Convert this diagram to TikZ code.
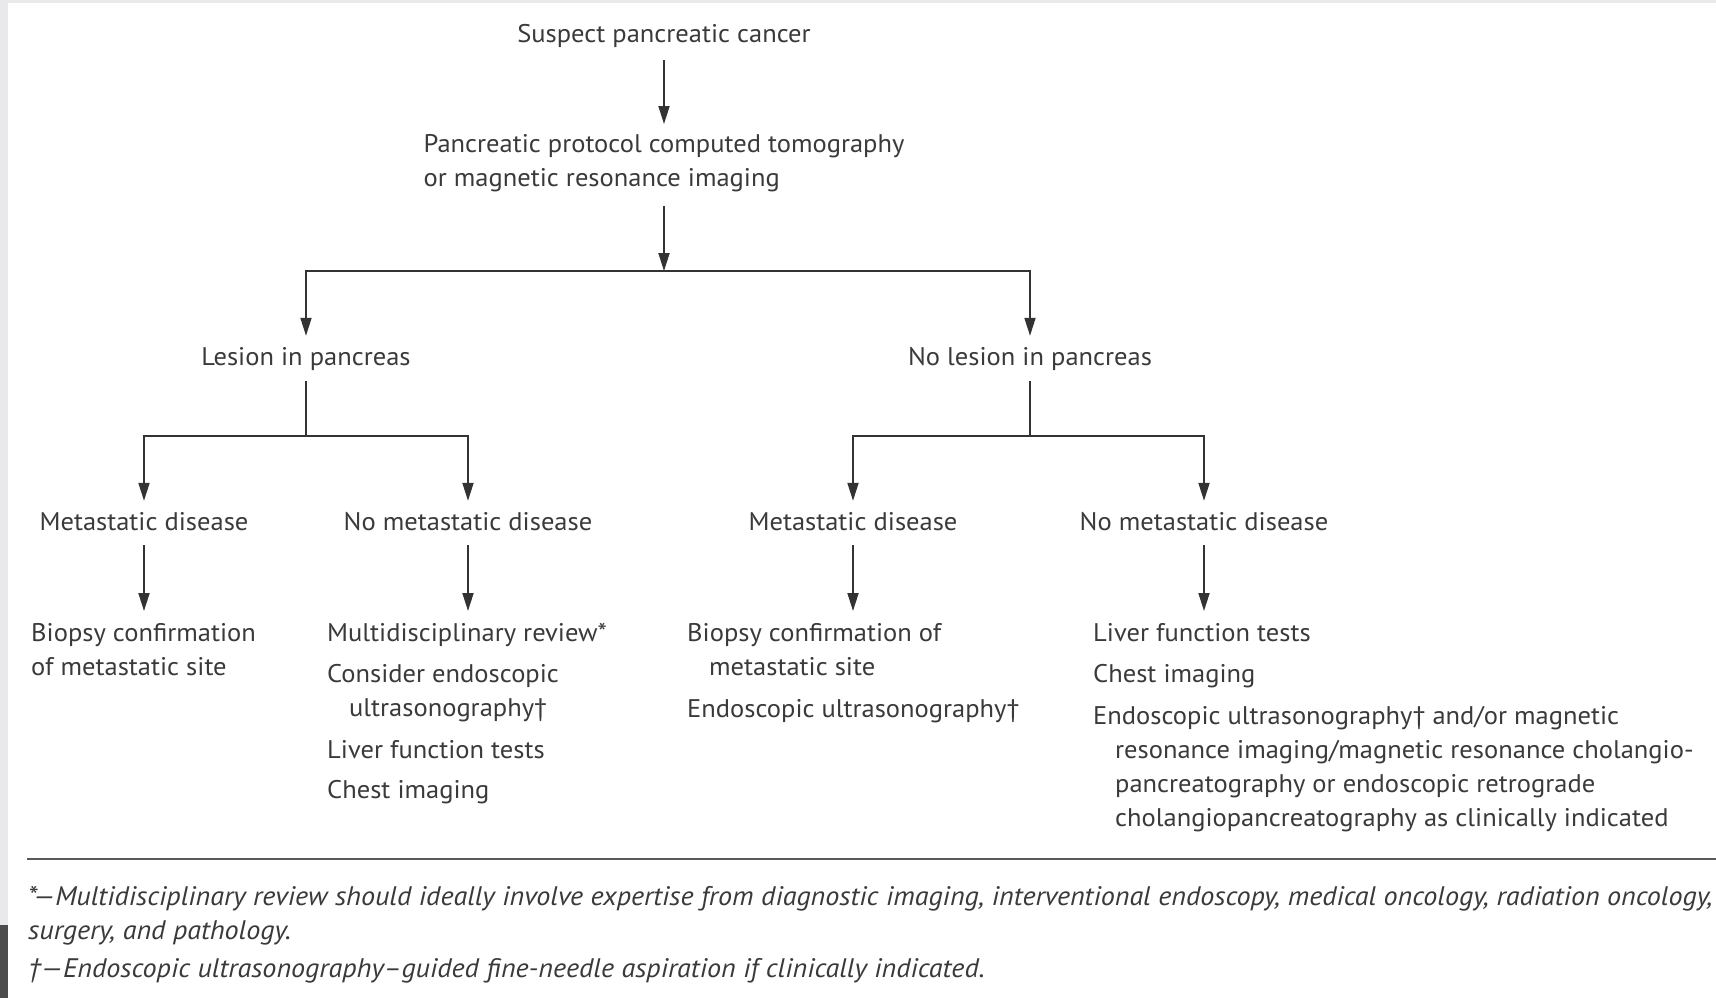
\documentclass[tikz,border=0pt]{standalone}
\usepackage{fontspec}
\setmainfont{PT Sans}[FakeStretch=1.04]
\newfontfamily\fnfont{PT Sans}[FakeStretch=1.05]
\usetikzlibrary{arrows.meta}
\definecolor{txt}{HTML}{3A3A3A}
\definecolor{ln}{HTML}{333333}
\definecolor{strip}{HTML}{E9E9EC}
\begin{document}
\begin{tikzpicture}[x=1pt,y=-1pt,
  lbl/.style={inner sep=0pt, text=txt, font=\fontsize{25.5}{34}\selectfont, text height=17pt, text depth=6pt, anchor=base},
  blk/.style={inner sep=0pt, text=txt, font=\fontsize{25.5}{34}\selectfont, align=left, anchor=north west},
  conn/.style={draw=ln, line width=1.8pt},
  arr/.style={conn, -{Triangle[width=11pt,length=18pt]}},
  fn/.style={inner sep=0pt, text=txt, font=\fnfont\fontsize{26.8}{34}\selectfont\itshape, anchor=base west},
  rule/.style={draw=black!65, line width=2.5pt}]
\useasboundingbox (0,0) rectangle (1716,998);
\fill[white] (0,0) rectangle (1716,998);
\fill[strip] (0,0) rectangle (8,998);
\fill[strip] (0,0) rectangle (1716,3);
\fill[black!70] (0,925) rectangle (8,998);

% nodes
\node[lbl] (suspect) at (664,43) {Suspect pancreatic cancer};
\node[blk, anchor=north] (ct) at (664,134) {Pancreatic protocol computed tomography\\or magnetic resonance imaging};
\coordinate (j0) at (664,271);
\node[lbl] (lesion) at (306,365) {Lesion in pancreas};
\node[lbl] (nolesion) at (1030,365) {No lesion in pancreas};
\coordinate (j1) at (306,436);
\coordinate (j2) at (1030,436);
\node[lbl] (m1) at (144,530) {Metastatic disease};
\node[lbl] (n1) at (468,530) {No metastatic disease};
\node[lbl] (m2) at (853,530) {Metastatic disease};
\node[lbl] (n2) at (1204,530) {No metastatic disease};

\node[blk] (b1) at (31,623) {Biopsy confirmation\\of metastatic site};
\node[blk] (b2) at (327,623) {Multidisciplinary review*\\[7pt]
Consider endoscopic\\\hspace*{22pt}ultrasonography†\\[8pt]
Liver function tests\\[6pt]
Chest imaging};
\node[blk] (b3) at (687,623) {Biopsy confirmation of\\\hspace*{22pt}metastatic site\\[8pt]
Endoscopic ultrasonography†};
\node[blk] (b4) at (1093,623) {Liver function tests\\[7pt]
Chest imaging\\[8pt]
Endoscopic ultrasonography† and/or magnetic\\
\hspace*{22pt}resonance imaging/magnetic resonance cholangio-\\
\hspace*{22pt}pancreatography or endoscopic retrograde\\
\hspace*{22pt}cholangiopancreatography as clinically indicated};

% connectors
\draw[arr, shorten <=11pt, shorten >=10pt] (suspect.south) -- (ct.north);
\draw[arr, shorten <=14pt] (ct.south) -- (j0);
\draw[arr, shorten >=12pt] (j0) -| (lesion.north);
\draw[arr, shorten >=12pt] (j0) -| (nolesion.north);
\draw[conn, shorten <=10pt] (lesion.south) -- (j1);
\draw[conn, shorten <=10pt] (nolesion.south) -- (j2);
\draw[arr, shorten >=12pt] (j1) -| (m1.north);
\draw[arr, shorten >=12pt] (j1) -| (n1.north);
\draw[arr, shorten >=12pt] (j2) -| (m2.north);
\draw[arr, shorten >=12pt] (j2) -| (n2.north);
\draw[arr, shorten <=9pt, shorten >=12pt] (m1.south) -- (m1.south |- b1.north);
\draw[arr, shorten <=9pt, shorten >=12pt] (n1.south) -- (n1.south |- b2.north);
\draw[arr, shorten <=9pt, shorten >=12pt] (m2.south) -- (m2.south |- b3.north);
\draw[arr, shorten <=9pt, shorten >=12pt] (n2.south) -- (n2.south |- b4.north);

% footnotes
\draw[rule] (27,859) -- (1716,859);
\node[fn] (f1) at (28,905) {*—Multidisciplinary review should ideally involve expertise from diagnostic imaging, interventional endoscopy, medical oncology, radiation oncology,};
\node[fn] (f2) at (28,939) {surgery, and pathology.};
\node[fn] (f3) at (28,977) {†—Endoscopic ultrasonography–guided fine-needle aspiration if clinically indicated.};
\end{tikzpicture}
\end{document}
